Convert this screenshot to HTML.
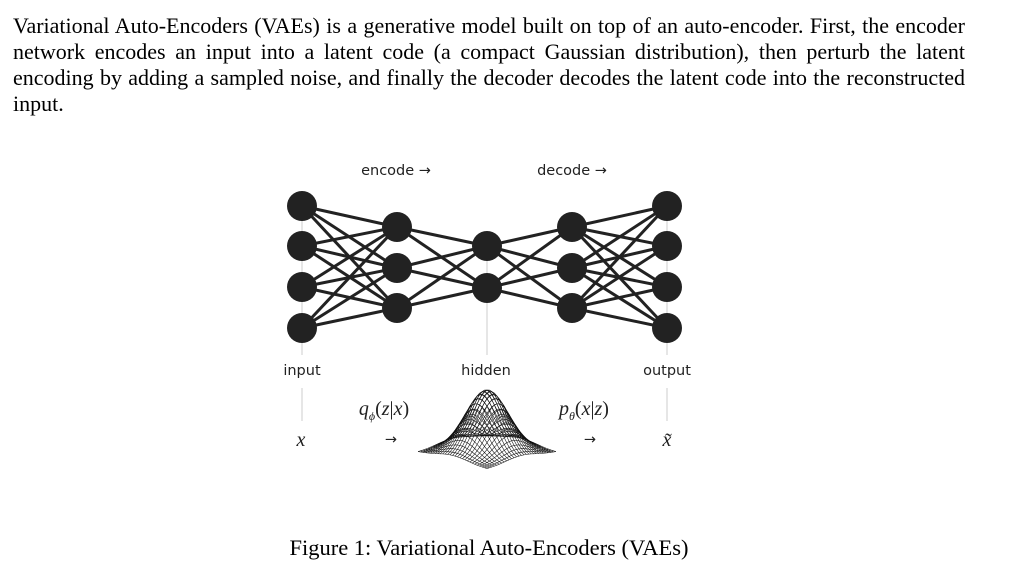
<!DOCTYPE html>
<html><head><meta charset="utf-8"><style>
body{margin:0;width:1011px;height:567px;background:#fff;position:relative;overflow:hidden;font-family:"Liberation Serif",serif;color:#000}
.l{position:absolute;left:13px;width:952px;font-size:22px;line-height:26px;text-align:justify;text-align-last:justify;white-space:nowrap}
.s{position:absolute;font-family:"DejaVu Sans","Liberation Sans",sans-serif;font-size:14.5px;color:#222;transform:translateX(-50%)}
.m{position:absolute;font-family:"Liberation Serif",serif;font-style:italic;font-size:20px;color:#222;transform:translateX(-50%)}
</style></head><body>
<div class="l" style="top:13px">Variational Auto-Encoders (VAEs) is a generative model built on top of an auto-encoder. First, the encoder</div>
<div class="l" style="top:39px">network encodes an input into a latent code (a compact Gaussian distribution), then perturb the latent</div>
<div class="l" style="top:65px">encoding by adding a sampled noise, and finally the decoder decodes the latent code into the reconstructed</div>
<div class="l" style="top:91px;text-align-last:left">input.</div>
<svg id="g" width="1011" height="567" style="position:absolute;left:0;top:0"></svg>
<div class="s" style="left:396px;top:163px">encode →</div>
<div class="s" style="left:572px;top:163px">decode →</div>
<div class="s" style="left:302px;top:363px">input</div>
<div class="s" style="left:486px;top:363px">hidden</div>
<div class="s" style="left:667px;top:363px">output</div>
<div class="m" style="left:384px;top:398px">q<sub style="font-size:12px">ϕ</sub><span style="font-style:normal">(</span>z<span style="font-style:normal">|</span>x<span style="font-style:normal">)</span></div>
<div class="m" style="left:584px;top:398px">p<sub style="font-size:12px">θ</sub><span style="font-style:normal">(</span>x<span style="font-style:normal">|</span>z<span style="font-style:normal">)</span></div>
<div class="m" style="left:301px;top:429px">x</div>
<div class="m" style="left:667px;top:429px">x̃</div>
<div class="s" style="left:391px;top:432px">→</div>
<div class="s" style="left:590px;top:432px">→</div>
<div style="position:absolute;left:0;width:978px;top:535px;text-align:center;font-size:22.5px">Figure 1: Variational Auto-Encoders (VAEs)</div>
<script>
var L=[[302,[206,246,287,328]],[397,[227,268,308]],[487,[246,288]],[572,[227,268,308]],[667,[206,246,287,328]]];
var s='';
s+='<line x1="302" y1="206" x2="302" y2="355" stroke="#ddd" stroke-width="1.5"/><line x1="302" y1="388" x2="302" y2="421" stroke="#ddd" stroke-width="1.5"/>';
s+='<line x1="487" y1="246" x2="487" y2="355" stroke="#ddd" stroke-width="1.5"/>';
s+='<line x1="667" y1="206" x2="667" y2="355" stroke="#ddd" stroke-width="1.5"/><line x1="667" y1="388" x2="667" y2="421" stroke="#ddd" stroke-width="1.5"/>';
for(var i=0;i<4;i++){var a=L[i],b=L[i+1];a[1].forEach(function(y1){b[1].forEach(function(y2){s+='<line x1="'+a[0]+'" y1="'+y1+'" x2="'+b[0]+'" y2="'+y2+'" stroke="#222" stroke-width="3"/>';});});}
L.forEach(function(l){l[1].forEach(function(y){s+='<circle cx="'+l[0]+'" cy="'+y+'" r="15" fill="#222"/>';});});
function P(u,v){var z=Math.exp(-(u*u+v*v)/(2*0.2));return [487+(u-v)*34.5,452+(u+v)*8.5-62*z];}
var N=28;
for(var k=0;k<2;k++)for(var i=0;i<=N;i++){var pts=[];for(var j=0;j<=N;j++){var a=-1+2*i/N,b=-1+2*j/N;var p=k?P(a,b):P(b,a);pts.push(p[0].toFixed(1)+','+p[1].toFixed(1));}s+='<polyline points="'+pts.join(' ')+'" fill="none" stroke="#111" stroke-width="0.55"/>';}
document.getElementById('g').innerHTML=s;
</script>
</body></html>
